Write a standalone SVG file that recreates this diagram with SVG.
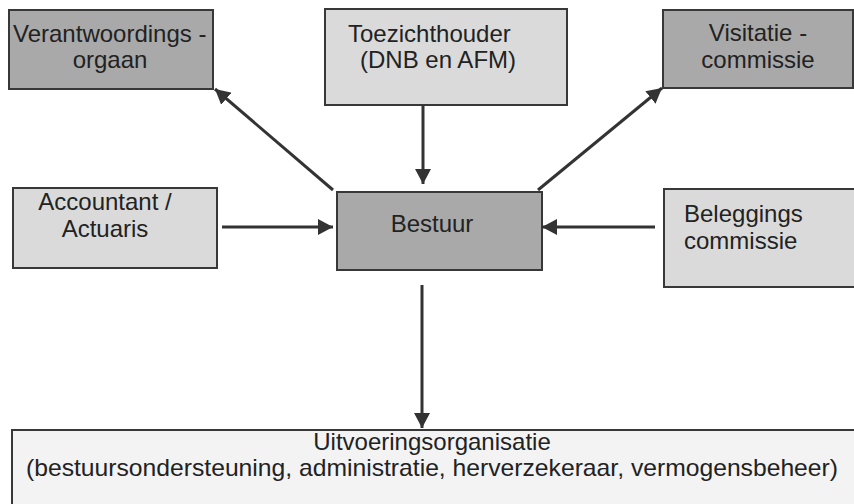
<svg xmlns="http://www.w3.org/2000/svg" width="854" height="504" viewBox="0 0 854 504">
  <defs>
    <marker id="arrow" markerUnits="userSpaceOnUse" markerWidth="16" markerHeight="16" refX="15" refY="8" orient="auto">
      <path d="M0,0 L15,8 L0,16 z" fill="#333"/>
    </marker>
  </defs>
  <style>
    .dark { fill: #a9a9a9; stroke: #383838; stroke-width: 2; }
    .light { fill: #dadada; stroke: #383838; stroke-width: 2; }
    .pale { fill: #f3f3f3; stroke: #383838; stroke-width: 2; }
    text { font-family: "Liberation Sans", Arial, sans-serif; font-size: 24px; fill: #222; }
    .conn { stroke: #333; stroke-width: 3; fill: none; marker-end: url(#arrow); }
  </style>
  <rect width="854" height="504" fill="#ffffff"/>

  <g id="verantwoordingsorgaan">
    <rect class="dark" x="9" y="10" width="204" height="79"/>
    <text x="13" y="42">Verantwoordings -</text>
    <text x="110" y="68" text-anchor="middle">orgaan</text>
  </g>

  <g id="toezichthouder">
    <rect class="light" x="325" y="9" width="242" height="96"/>
    <text x="348" y="42">Toezichthouder</text>
    <text x="360" y="68">(DNB en AFM)</text>
  </g>

  <g id="visitatiecommissie">
    <rect class="dark" x="663" y="10" width="190" height="78"/>
    <text x="758" y="41" text-anchor="middle">Visitatie -</text>
    <text x="758" y="68" text-anchor="middle">commissie</text>
  </g>

  <g id="accountant">
    <rect class="light" x="13" y="188" width="204" height="80"/>
    <text x="105" y="210" text-anchor="middle">Accountant /</text>
    <text x="105" y="237" text-anchor="middle">Actuaris</text>
  </g>

  <g id="bestuur">
    <rect class="dark" x="337" y="192" width="205" height="78"/>
    <text x="432" y="232" text-anchor="middle">Bestuur</text>
  </g>

  <g id="beleggingscommissie">
    <rect class="light" x="664" y="189" width="196" height="98"/>
    <text x="684" y="222">Beleggings</text>
    <text x="684" y="249">commissie</text>
  </g>

  <g id="uitvoeringsorganisatie">
    <rect class="pale" x="12" y="430" width="850" height="80"/>
    <text x="432" y="450" text-anchor="middle">Uitvoeringsorganisatie</text>
    <text x="432" y="476" text-anchor="middle" textLength="812" lengthAdjust="spacingAndGlyphs">(bestuursondersteuning, administratie, herverzekeraar, vermogensbeheer)</text>
  </g>

  <g id="connectors">
    <line class="conn" x1="333" y1="190" x2="215" y2="89"/>
    <line class="conn" x1="423" y1="105" x2="423" y2="184"/>
    <line class="conn" x1="538" y1="190" x2="662" y2="88"/>
    <line class="conn" x1="222" y1="227" x2="333" y2="227"/>
    <line class="conn" x1="655" y1="227" x2="542" y2="227"/>
    <line class="conn" x1="422" y1="285" x2="422" y2="428"/>
  </g>
</svg>
